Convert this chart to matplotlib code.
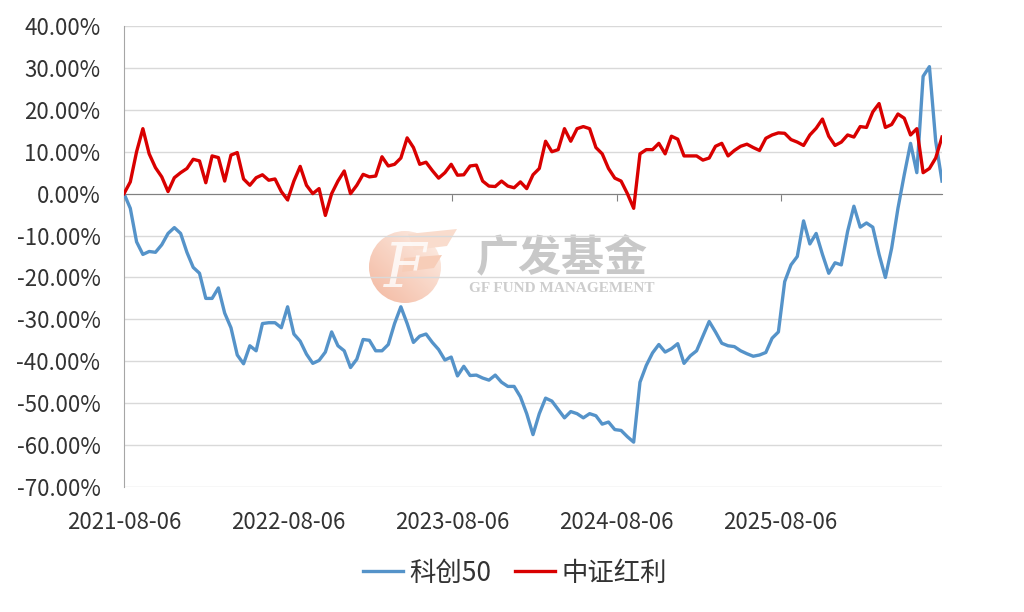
import matplotlib
matplotlib.use('Agg')
import matplotlib.pyplot as plt
from matplotlib.patches import Circle, Polygon
from matplotlib.colors import LinearSegmentedColormap
from matplotlib.ticker import FuncFormatter, MultipleLocator
import numpy as np
import pandas as pd

plt.rcParams['font.family'] = ['Noto Sans CJK SC', 'DejaVu Sans']

# two-week sampling of the cumulative returns (%)
dates = pd.date_range('2021-08-06', periods=131, freq='14D')

kc50 = [0, -3.5, -11.5, -14.5, -13.8, -14, -12.2, -9.5, -8.1, -9.5,
        -14, -17.6, -19, -25, -25, -22.5, -28.5, -32, -38.5, -40.6,
        -36.3, -37.5, -31, -30.8, -30.8, -32, -27, -33.5, -35.2, -38.3,
        -40.5, -39.8, -37.8, -33, -36.3, -37.5, -41.5, -39.5, -34.8, -35,
        -37.5, -37.5, -36, -31, -27, -31, -35.5, -34, -33.5, -35.5,
        -37.2, -39.7, -39, -43.5, -41.2, -43.4, -43.3, -44, -44.5, -43.3,
        -45, -46, -46, -48.5, -52.5, -57.5, -52.5, -48.8, -49.5, -51.5,
        -53.5, -52, -52.5, -53.5, -52.5, -53, -55, -54.5, -56.3, -56.5,
        -58, -59.3, -45, -41, -38, -36, -37.8, -37, -35.8, -40.5,
        -38.7, -37.5, -34, -30.5, -33, -35.7, -36.3, -36.5, -37.5, -38.2,
        -38.8, -38.5, -37.9, -34.5, -33, -21, -17, -15, -6.5, -12,
        -9.5, -14.5, -19, -16.5, -17, -9, -3, -8, -7, -8,
        -14.5, -20, -13, -3.5, 4.5, 12, 5, 28, 30.3, 12.5,
        3]

hongli = [0, 2.8, 10, 15.5, 9.5, 6.2, 4, 0.5, 3.8, 5,
          6, 8.2, 7.8, 2.6, 9, 8.6, 3, 9.2, 9.8, 3.5,
          2, 3.8, 4.5, 3.2, 3.5, 0.5, -1.5, 3, 6.5, 2,
          0, 1.2, -5.2, 0, 3, 5.4, 0, 2, 4.6, 4,
          4.2, 8.8, 6.6, 7, 8.5, 13.3, 11, 7, 7.5, 5.5,
          3.7, 5, 7, 4.4, 4.5, 6.6, 6.8, 3, 1.8, 1.7,
          3, 1.8, 1.4, 2.8, 1.2, 4.5, 6, 12.5, 10, 10.5,
          15.5, 12.5, 15.5, 16, 15.5, 11, 9.5, 6, 3.7, 3,
          0, -3.5, 9.5, 10.5, 10.5, 12, 9.5, 13.7, 13, 9,
          9, 9, 8, 8.5, 11.3, 12, 9, 10.3, 11.3, 11.8,
          11, 10.3, 13.2, 14, 14.5, 14.4, 12.9, 12.3, 11.5, 14,
          15.6, 17.8, 13.7, 11.5, 12.3, 14, 13.5, 16, 15.8, 19.5,
          21.5, 15.8, 16.5, 19, 18, 14, 15.5, 5, 6, 8.5,
          13.5]

tick_labels = ['2021-08-06', '2022-08-06', '2023-08-06', '2024-08-06', '2025-08-06']
tick_dates = pd.to_datetime(tick_labels)

fig = plt.figure(figsize=(10.24, 6.12), dpi=100)

# watermark layer (pixel coordinates), behind the chart
wm = fig.add_axes([0, 0, 1, 1], zorder=0)
gy, gx = np.mgrid[0:1:100j, 0:1:100j]
grad = (1 - gx) * 0.5 + gy * 0.5
cmap = LinearSegmentedColormap.from_list('wm', ['#fdf0e8', '#f3b8a0'])
img = wm.imshow(grad, cmap=cmap, extent=[369, 441, 303, 231], aspect='auto', zorder=1)
circ = Circle((405, 267), 36, facecolor='none', edgecolor='none')
wm.add_patch(circ)
img.set_clip_path(circ)
wm.add_patch(Polygon([(408, 234), (457, 229), (447, 246), (414, 250)],
                     closed=True, facecolor='#f9dccd', edgecolor='none', zorder=2))
wm.add_patch(Polygon([(404, 258), (442, 255), (434, 268), (402, 272)],
                     closed=True, facecolor='#f7cdb8', edgecolor='none', zorder=2))
wm.text(405, 270, 'F', color='white', fontsize=44, fontstyle='italic',
        family='DejaVu Serif', ha='center', va='center', alpha=0.8, zorder=3)
wm.text(562, 258, '广发基金', color='#c8c8c8', fontsize=31, fontweight='bold',
        ha='center', va='center', zorder=3)
wm.text(562, 289, 'GF FUND MANAGEMENT', color='#cdcdcd', fontsize=11, fontweight='bold',
        family='Liberation Serif', ha='center', va='center', zorder=3)
wm.set_xlim(0, 1024)
wm.set_ylim(612, 0)
wm.axis('off')

ax = fig.add_axes([124 / 1024, 1 - 487 / 612, (942 - 124) / 1024, (487 - 26) / 612], zorder=1)
ax.patch.set_alpha(0)
ax.plot(dates, kc50, color='#5593C9', lw=2.4, label='科创50', zorder=3)
ax.plot(dates, hongli, color='#D90000', lw=2.4, label='中证红利', zorder=3)

ax.set_xlim(dates[0], dates[-1])
ax.set_ylim(-70, 40)
ax.yaxis.set_major_locator(MultipleLocator(10))
ax.yaxis.set_major_formatter(FuncFormatter(lambda v, p: f'{v:.2f}%'))
ax.grid(axis='y', color='#d9d9d9', lw=1)
ax.set_axisbelow(True)

for s in ['top', 'right']:
    ax.spines[s].set_visible(False)
ax.spines['left'].set_color('#a6a6a6')
ax.spines['bottom'].set_position(('data', 0))
ax.spines['bottom'].set_color('#808080')

ax.set_xticks(tick_dates)
ax.tick_params(axis='x', direction='out', length=5, color='#808080', labelbottom=False)
ax.tick_params(axis='y', length=0, labelsize=16, labelcolor='#333333', pad=17)
for d, lab in zip(tick_dates, tick_labels):
    ax.text(d, -0.076, lab, transform=ax.get_xaxis_transform(), ha='center', va='center',
            fontsize=16, color='#333333')

fig.legend(loc='center', bbox_to_anchor=(515 / 1024, 1 - 573 / 612), ncol=2, frameon=False,
           fontsize=19, handlelength=1.5, handletextpad=0.25, columnspacing=0.9,
           labelcolor='#333333')

fig.savefig('out.png', dpi=100)
